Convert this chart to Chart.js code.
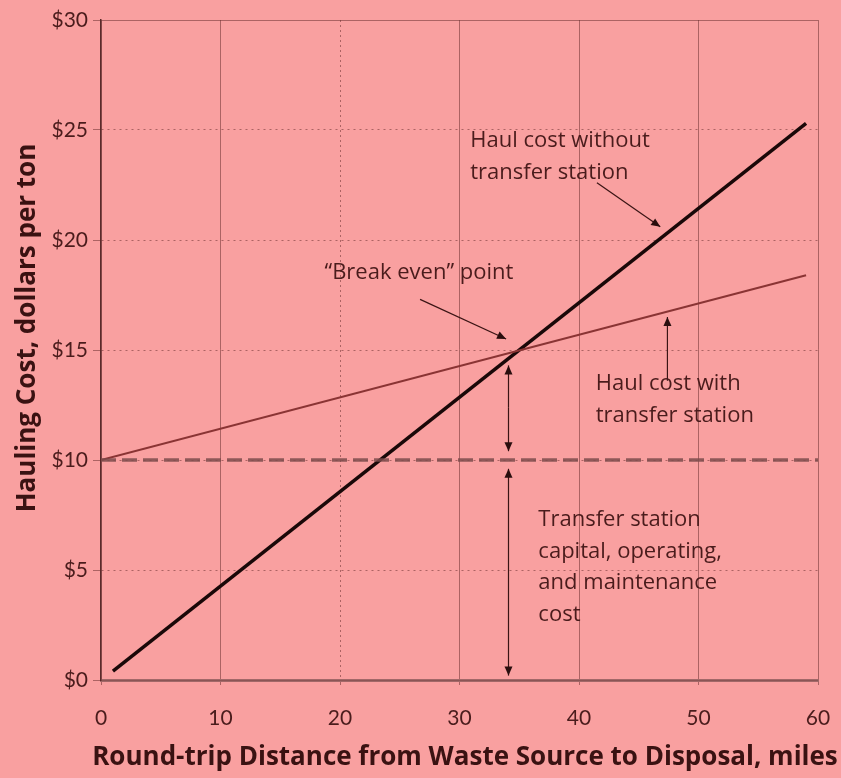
<!DOCTYPE html>
<html>
<head>
<meta charset="utf-8">
<script src="https://cdn.jsdelivr.net/npm/chart.js@4.4.1/dist/chart.umd.min.js"></script>
<style>
  html, body { margin: 0; padding: 0; background: rgb(249,160,160); }
  #wrap { width: 841px; height: 778px; }
</style>
</head>
<body>
<div id="wrap"><canvas id="haulChart"></canvas></div>
<script>
// distances (miles) and costs ($/ton)
const milesWithout = [1, 59];
const costWithout = [0.4, 25.3];
const milesWith = [0, 59];
const costWith = [10, 18.4];
const milesFixed = [0, 60];
const costFixed = [10, 10];

const xTicks = [0, 10, 20, 30, 40, 50, 60];
const yTicks = [0, 5, 10, 15, 20, 25, 30];

const yTitle = 'Hauling Cost, dollars per ton';
const xTitle = 'Round-trip Distance from Waste Source to Disposal, miles';

const bg = 'rgb(249,160,160)';
const gridCol = 'rgba(110,50,50,0.55)';
const inkCol = '#4a1c1c';

function pts(xs, ys) {
  return xs.map((x, i) => ({ x: x, y: ys[i] }));
}

// notes and arrows, in data units
const notes = [
  { lines: ['Haul cost without', 'transfer station'], x: 30.9, y: 24.5 },
  { lines: ['\u201cBreak even\u201d point'], x: 18.7, y: 18.5 },
  { lines: ['Haul cost with', 'transfer station'], x: 41.4, y: 13.45 },
  { lines: ['Transfer station', 'capital, operating,', 'and maintenance', 'cost'], x: 36.6, y: 7.27 }
];
const arrows = [
  { from: [41.5, 22.6], to: [46.8, 20.6] },
  { from: [26.7, 17.3], to: [33.9, 15.5] },
  { from: [47.4, 13.6], to: [47.4, 16.5] },
  { from: [34.1, 12.4], to: [34.1, 14.3] },
  { from: [34.1, 12.4], to: [34.1, 10.4] },
  { from: [34.1, 5], to: [34.1, 9.6] },
  { from: [34.1, 5], to: [34.1, 0.2] }
];

const paintBg = {
  id: 'paintBg',
  beforeDraw(chart) {
    const c = chart.ctx;
    c.save();
    c.fillStyle = bg;
    c.fillRect(0, 0, chart.width, chart.height);
    c.restore();
  }
};

const notesPlugin = {
  id: 'notesPlugin',
  afterDatasetsDraw(chart) {
    const c = chart.ctx;
    const xs = chart.scales.x, ys = chart.scales.y;
    c.save();
    // arrows
    c.strokeStyle = '#3a1414';
    c.fillStyle = '#2a0e0e';
    c.lineWidth = 1.2;
    arrows.forEach(a => {
      const x1 = xs.getPixelForValue(a.from[0]), y1 = ys.getPixelForValue(a.from[1]);
      const x2 = xs.getPixelForValue(a.to[0]), y2 = ys.getPixelForValue(a.to[1]);
      c.beginPath();
      c.moveTo(x1, y1);
      c.lineTo(x2, y2);
      c.stroke();
      const ang = Math.atan2(y2 - y1, x2 - x1);
      const len = 9, w = 4;
      c.beginPath();
      c.moveTo(x2, y2);
      c.lineTo(x2 - len * Math.cos(ang) + w * Math.sin(ang), y2 - len * Math.sin(ang) - w * Math.cos(ang));
      c.lineTo(x2 - len * Math.cos(ang) - w * Math.sin(ang), y2 - len * Math.sin(ang) + w * Math.cos(ang));
      c.closePath();
      c.fill();
    });
    // text
    c.font = '22px "Open Sans"';
    c.fillStyle = inkCol;
    c.textAlign = 'left';
    c.textBaseline = 'middle';
    notes.forEach(n => {
      const x = xs.getPixelForValue(n.x);
      const y0 = ys.getPixelForValue(n.y);
      n.lines.forEach((t, i) => c.fillText(t, x, y0 + i * 31.5));
    });
    // axis titles
    c.fillStyle = '#3a1212';
    c.font = 'bold 26px "Open Sans"';
    c.textAlign = 'center';
    c.fillText(xTitle, 465, 758);
    c.translate(28, 328);
    c.rotate(-Math.PI / 2);
    c.fillText(yTitle, 0, 0);
    c.restore();
  }
};

new Chart(document.getElementById('haulChart'), {
  type: 'scatter',
  data: {
    datasets: [
      {
        label: 'Fixed transfer station cost',
        data: pts(milesFixed, costFixed),
        showLine: true,
        borderColor: 'rgba(125,75,75,0.85)',
        borderWidth: 3.5,
        borderDash: [15, 6],
        pointRadius: 0
      },
      {
        label: 'Haul cost with transfer station',
        data: pts(milesWith, costWith),
        showLine: true,
        borderColor: '#8a3434',
        borderWidth: 2,
        pointRadius: 0
      },
      {
        label: 'Haul cost without transfer station',
        data: pts(milesWithout, costWithout),
        showLine: true,
        borderColor: '#1a0808',
        borderWidth: 3.5,
        pointRadius: 0
      }
    ]
  },
  options: {
    responsive: true,
    maintainAspectRatio: false,
    animation: false,
    layout: { padding: { left: 0, right: 23, top: 20, bottom: 0 } },
    plugins: {
      legend: { display: false },
      tooltip: { enabled: false }
    },
    scales: {
      x: {
        type: 'linear',
        min: 0,
        max: 60,
        afterBuildTicks: s => { s.ticks = xTicks.map(v => ({ value: v })); },
        afterFit: s => { s.height = 98; s.paddingRight = 0; s.paddingLeft = 0; },
        ticks: {
          color: inkCol,
          font: { family: 'Lato', size: 21 },
          padding: 21
        },
        grid: {
          color: gridCol,
          lineWidth: 1,
          tickLength: 5
        },
        border: {
          display: true,
          color: 'rgba(125,80,80,0.7)',
          width: 3,
          dash: ctx => (ctx.tick && ctx.tick.value === 20) ? [2, 3] : []
        },
        title: { display: false }
      },
      y: {
        min: 0,
        max: 30,
        afterBuildTicks: s => { s.ticks = yTicks.map(v => ({ value: v })); },
        afterFit: s => { s.width = 101; s.paddingTop = 0; s.paddingBottom = 0; },
        ticks: {
          color: inkCol,
          font: { family: 'Lato', size: 21 },
          padding: 5,
          callback: v => '$' + v
        },
        grid: {
          color: gridCol,
          lineWidth: 1,
          tickLength: 8
        },
        border: {
          display: true,
          color: '#5a2a2a',
          width: 1.5,
          dash: ctx => (ctx.tick && ctx.tick.value > 0 && ctx.tick.value < 30) ? [2, 4] : []
        },
        title: { display: false }
      }
    }
  },
  plugins: [paintBg, notesPlugin]
});
</script>
</body>
</html>
